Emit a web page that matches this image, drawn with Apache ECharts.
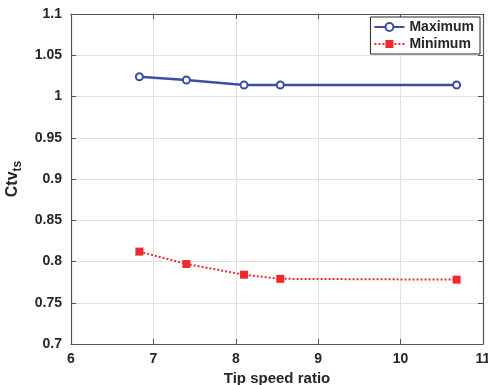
<!DOCTYPE html>
<html><head><meta charset="utf-8">
<script src="https://cdn.jsdelivr.net/npm/echarts@6/dist/echarts.min.js"></script>
<style>html,body{margin:0;padding:0;background:#fff}#c{width:488px;height:385px}</style>
</head><body><div id="c"></div>
<script>
const tsr = [6.83, 7.40, 8.10, 8.54, 10.68];
const maximum = [1.024, 1.020, 1.014, 1.014, 1.014];
const minimum = [0.812, 0.797, 0.784, 0.779, 0.778];
const xTicks = [6, 7, 8, 9, 10, 11];
const yTicks = [0.7, 0.75, 0.8, 0.85, 0.9, 0.95, 1, 1.05, 1.1];

const font = 'Liberation Sans, Arial, sans-serif';
const chart = echarts.init(document.getElementById('c'));
const lbl = {fontFamily: font, fontWeight: 'bold', fontSize: 14, color: '#262626'};
chart.setOption({
  animation: false,
  grid: {left: 71, right: 5, top: 14, bottom: 41, show: false, outerBoundsMode: 'none', containLabel: false},
  legend: {
    top: 17, right: 8, orient: 'vertical', itemGap: 3, itemWidth: 30, itemHeight: 10,
    borderColor: '#262626', borderWidth: 1, padding: [3, 6, 3, 3],
    backgroundColor: '#fff',
    textStyle: {fontFamily: font, fontWeight: 'bold', fontSize: 14, color: '#262626'},
    data: ['Maximum', 'Minimum']
  },
  xAxis: [{
    type: 'value', min: xTicks[0], max: xTicks[xTicks.length - 1], interval: 1,
    name: 'Tip speed ratio', nameLocation: 'middle', nameGap: 25,
    nameTextStyle: {fontFamily: font, fontWeight: 'bold', fontSize: 15, color: '#262626'},
    axisLine: {show: true, lineStyle: {color: '#555', width: 1.2}},
    axisTick: {show: true, inside: true, length: 5, lineStyle: {color: '#555'}},
    axisLabel: Object.assign({margin: 8, formatter: v => String(v)}, lbl),
    splitLine: {show: true, lineStyle: {color: '#e2e2e2'}}
  }, {
    type: 'value', position: 'top', min: xTicks[0], max: xTicks[xTicks.length - 1], interval: 1,
    axisLine: {show: true, lineStyle: {color: '#555', width: 1.2}},
    axisTick: {show: true, inside: true, length: 5, lineStyle: {color: '#555'}},
    axisLabel: {show: false}, splitLine: {show: false}
  }],
  yAxis: [{
    type: 'value', min: yTicks[0], max: yTicks[yTicks.length - 1], interval: 0.05,
    name: 'Ctv{s|ts}', nameLocation: 'middle', nameGap: 47,
    nameTextStyle: {fontFamily: font, fontWeight: 'bold', fontSize: 16, color: '#262626',
      rich: {s: {fontFamily: font, fontWeight: 'bold', fontSize: 12, color: '#262626', verticalAlign: 'bottom', padding: [10, 0, 0, 0]}}},
    axisLine: {show: true, lineStyle: {color: '#555', width: 1.2}},
    axisTick: {show: true, inside: true, length: 5, lineStyle: {color: '#555'}},
    axisLabel: Object.assign({margin: 9, formatter: v => String(+v.toFixed(2))}, lbl),
    splitLine: {show: true, lineStyle: {color: '#e2e2e2'}}
  }, {
    type: 'value', position: 'right', min: yTicks[0], max: yTicks[yTicks.length - 1], interval: 0.05,
    axisLine: {show: true, lineStyle: {color: '#555', width: 1.2}},
    axisTick: {show: true, inside: true, length: 5, lineStyle: {color: '#555'}},
    axisLabel: {show: false}, splitLine: {show: false}
  }],
  series: [{
    name: 'Maximum', type: 'line', data: tsr.map((x, i) => [x, maximum[i]]),
    symbol: 'emptyCircle', symbolSize: 7,
    lineStyle: {color: '#3b4ea3', width: 2.5},
    itemStyle: {color: '#3b4ea3', borderColor: '#3b4ea3', borderWidth: 2}
  }, {
    name: 'Minimum', type: 'line', data: tsr.map((x, i) => [x, minimum[i]]),
    symbol: 'rect', symbolSize: 8,
    lineStyle: {color: '#ee2a2f', width: 2, type: [2, 2]},
    itemStyle: {color: '#ee2a2f'}
  }]
});
</script></body></html>
